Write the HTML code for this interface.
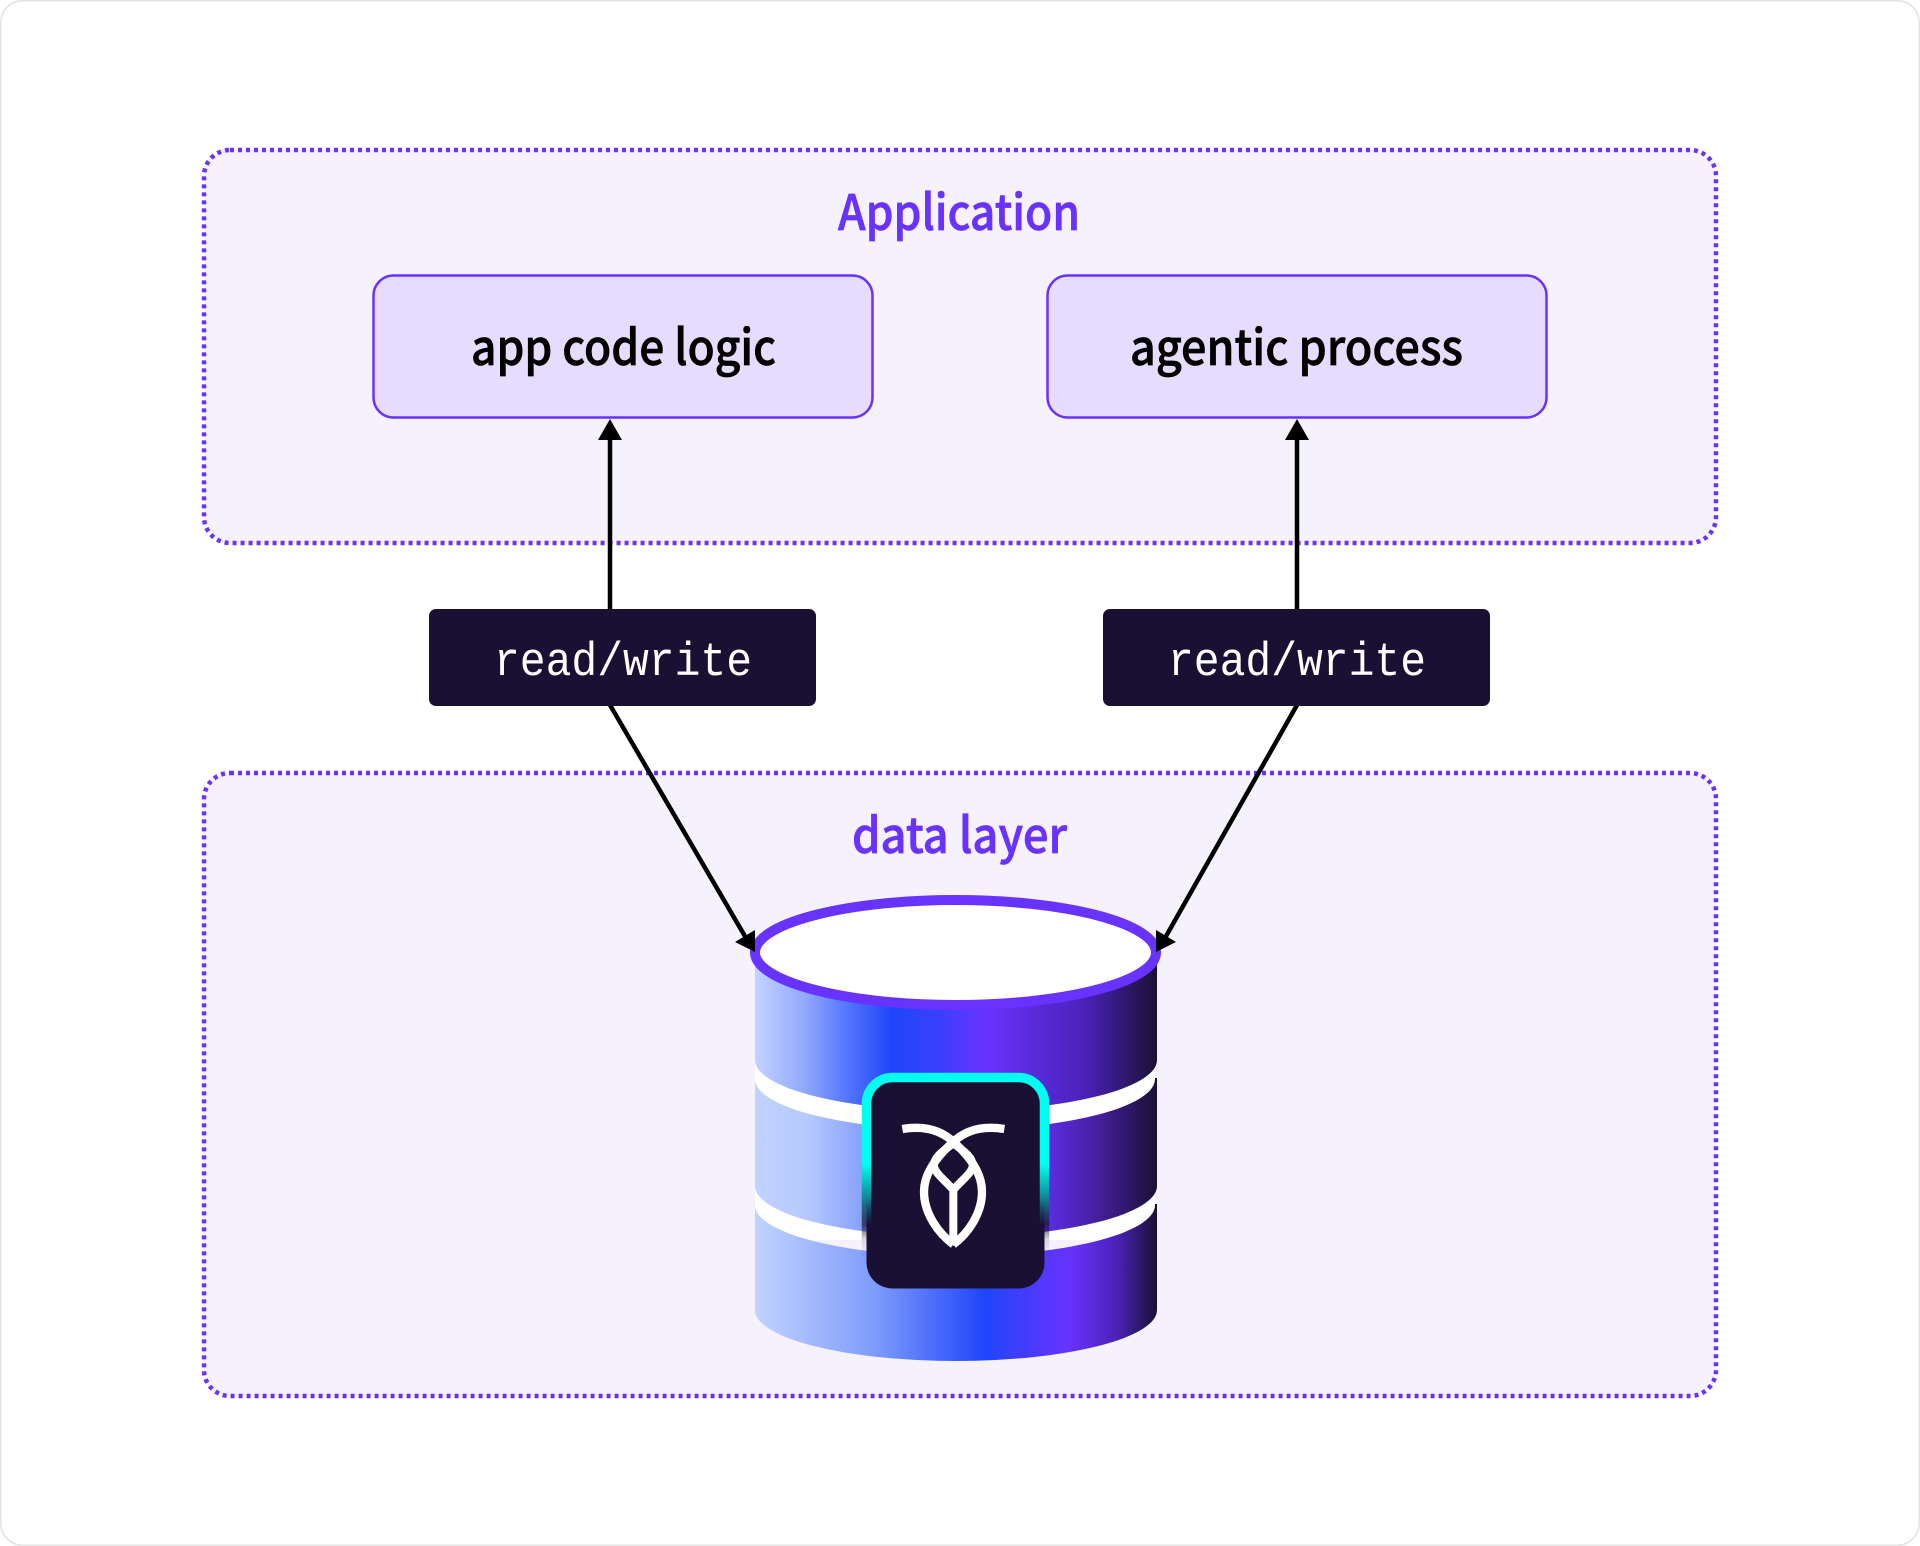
<!DOCTYPE html>
<html><head><meta charset="utf-8">
<style>html,body{margin:0;padding:0;background:#fff}svg{display:block}
.t{font-family:"Noto Sans CJK SC","Liberation Sans",sans-serif;font-weight:500;stroke-width:.7px}
.m{font-family:"Liberation Mono",monospace}
</style></head><body>
<svg width="1920" height="1546" viewBox="0 0 1920 1546" xmlns="http://www.w3.org/2000/svg">
<defs>
<linearGradient id="g1" gradientUnits="userSpaceOnUse" x1="755" y1="0" x2="1157" y2="0">
<stop offset="0" stop-color="#c2d3ff"/><stop offset=".12" stop-color="#93aafc"/><stop offset=".24" stop-color="#4f70fb"/><stop offset=".34" stop-color="#1f46fa"/><stop offset=".46" stop-color="#3a3ffc"/><stop offset=".57" stop-color="#6933ff"/><stop offset=".82" stop-color="#4a22b8"/><stop offset="1" stop-color="#1a1033"/>
</linearGradient>
<linearGradient id="g2" gradientUnits="userSpaceOnUse" x1="755" y1="0" x2="1157" y2="0">
<stop offset="0" stop-color="#c2d3ff"/><stop offset=".13" stop-color="#b6c9ff"/><stop offset=".27" stop-color="#86a0fc"/><stop offset=".46" stop-color="#1f46fa"/><stop offset=".7" stop-color="#6030f0"/><stop offset=".85" stop-color="#45209f"/><stop offset="1" stop-color="#1a1033"/>
</linearGradient>
<linearGradient id="g3" gradientUnits="userSpaceOnUse" x1="755" y1="0" x2="1157" y2="0">
<stop offset="0" stop-color="#c2d3ff"/><stop offset=".3" stop-color="#7e9bfb"/><stop offset=".57" stop-color="#1f46fa"/><stop offset=".78" stop-color="#6933ff"/><stop offset=".9" stop-color="#4a22b8"/><stop offset="1" stop-color="#1a1033"/>
</linearGradient>
<linearGradient id="ring" gradientUnits="userSpaceOnUse" x1="0" y1="1073" x2="0" y2="1270">
<stop offset="0" stop-color="#00fff0"/><stop offset=".46" stop-color="#00fff0"/><stop offset=".63" stop-color="#0f8a96"/><stop offset=".77" stop-color="#1a1033" stop-opacity=".7"/><stop offset=".85" stop-color="#1a1033" stop-opacity=".12"/><stop offset=".95" stop-color="#1a1033" stop-opacity="0"/>
</linearGradient>
</defs>

<rect x=".75" y=".75" width="1918.5" height="1544.5" rx="22" fill="#fff" stroke="#e2e2e2" stroke-width="1.5"/>

<rect x="204" y="150" width="1512" height="393" rx="26" fill="#f5f2fe" stroke="#6933ff" stroke-width="4.5" stroke-dasharray="4 4"/>
<rect x="204" y="773" width="1512" height="623" rx="26" fill="#f5f2fe" stroke="#6933ff" stroke-width="4.5" stroke-dasharray="4 4"/>

<text class="t" x="838" y="230" font-size="49" fill="#6933ff" stroke="#6933ff" textLength="242" lengthAdjust="spacingAndGlyphs">Application</text>
<text class="t" x="852" y="853" font-size="49" fill="#6933ff" stroke="#6933ff" textLength="215" lengthAdjust="spacingAndGlyphs">data layer</text>

<rect x="373.5" y="275.5" width="499" height="142" rx="20" fill="#e6dcfe" stroke="#6933ff" stroke-width="2.5"/>
<rect x="1047.5" y="275.5" width="499" height="142" rx="20" fill="#e6dcfe" stroke="#6933ff" stroke-width="2.5"/>
<text class="t" x="471" y="365" font-size="49" fill="#000" stroke="#000" textLength="305" lengthAdjust="spacingAndGlyphs">app code logic</text>
<text class="t" x="1130" y="365" font-size="49" fill="#000" stroke="#000" textLength="333" lengthAdjust="spacingAndGlyphs">agentic process</text>

<g stroke="#000" stroke-width="4.5" fill="none">
<line x1="610" y1="610" x2="610" y2="436"/>
<line x1="1297" y1="610" x2="1297" y2="436"/>
<line x1="610" y1="705" x2="746" y2="938"/>
<line x1="1297" y1="705" x2="1165" y2="938"/>
</g>
<polygon points="610,419 598,440 622,440" fill="#000"/>
<polygon points="1297,419 1285,440 1309,440" fill="#000"/>

<rect x="429" y="609" width="387" height="97" rx="7" fill="#1a1033"/>
<rect x="1103" y="609" width="387" height="97" rx="7" fill="#1a1033"/>
<text class="m" x="494" y="675" font-size="47" fill="#fff" textLength="258" lengthAdjust="spacingAndGlyphs">read/write</text>
<text class="m" x="1168" y="675" font-size="47" fill="#fff" textLength="258" lengthAdjust="spacingAndGlyphs">read/write</text>

<!-- cylinder -->
<rect x="755" y="1040" width="400" height="200" fill="#fff"/>
<path d="M755 1310 A201 51 0 0 0 1157 1310 V1204 H1153 L1155 1204 A200 51 0 0 1 955 1256 A200 51 0 0 1 755 1204 Z" fill="url(#g3)"/>
<path d="M755 1079 A200 51 0 0 0 1155 1079 V1078 H1157 V1186 A201 51 0 0 1 755 1186 Z" fill="url(#g2)"/>
<path d="M755 950 H1157 V1060 A201 51 0 0 1 755 1060 Z" fill="url(#g1)"/>
<ellipse cx="955.5" cy="952.5" rx="200.5" ry="52.5" fill="#fff" stroke="#6933ff" stroke-width="10"/>

<polygon points="755,930 735,942 755,952" fill="#000"/>
<polygon points="1156,930 1176,942 1156,952" fill="#000"/>

<!-- card -->
<rect x="866.5" y="1077.5" width="178" height="211" rx="26" fill="#1a1033" stroke="none"/>
<path d="M866.5 1270 V1104 A26 26 0 0 1 892.5 1077.5 H1018.5 A26 26 0 0 1 1044.5 1104 V1270" fill="none" stroke="url(#ring)" stroke-width="9.5"/>

<g transform="translate(840 1060) scale(.33333)" fill="none" stroke="#fff" stroke-width="25">
<path d="M187 207 C260 195 310 215 345 250 C400 300 426 350 426 395 C426 460 385 520 340 553"/>
<path d="M493 207 C420 195 370 215 335 250 C280 300 252 350 252 395 C252 460 295 520 340 553"/>
<path d="M340 250 C305 275 280 295 282 318 C284 340 320 365 340 390 C360 365 396 340 398 318 C400 295 375 275 340 250" stroke-width="24"/>
<path d="M340 385 V545" stroke-width="24"/>
<polygon points="316,533 364,533 340,558" fill="#fff" stroke="none"/>
</g>
</svg>
</body></html>
